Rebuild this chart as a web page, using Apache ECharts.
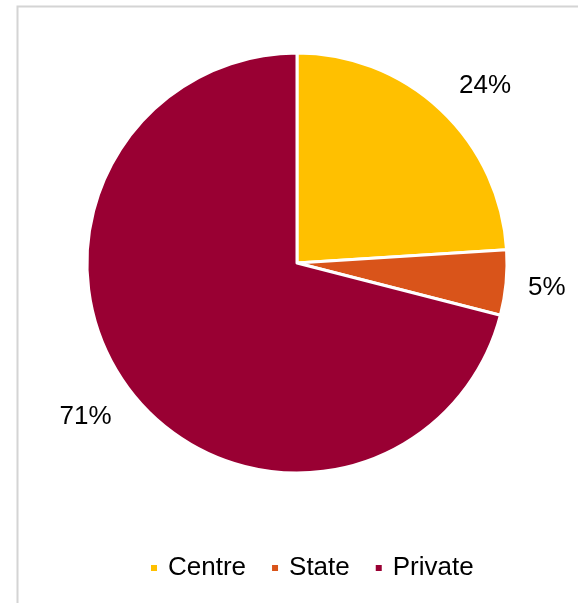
<!DOCTYPE html>
<html>
<head>
<meta charset="utf-8">
<script src="https://cdn.jsdelivr.net/npm/echarts@6/dist/echarts.min.js"></script>
<style>
html,body{margin:0;padding:0;background:#fff;}
#chart{width:578px;height:603px;}
</style>
</head>
<body>
<div id="chart"></div>
<script>
var categories = ['Centre', 'State', 'Private'];
var values = [24, 5, 71];
var colors = ['#FFC000', '#D9541A', '#990033'];
var labelOffsets = [[10, 12], [-9, 0], [-6, -6]];

var pieData = categories.map(function (c, i) {
  return { name: c, value: values[i], itemStyle: { color: colors[i] } };
});
var labelData = categories.map(function (c, i) {
  return { name: c, value: values[i], label: { offset: labelOffsets[i] } };
});

var chart = echarts.init(document.getElementById('chart'), null, { renderer: 'canvas' });
chart.setOption({
  backgroundColor: '#fff',
  animation: false,
  graphic: [{
    type: 'rect',
    left: 15, top: 4,
    shape: { width: 620, height: 640 },
    style: { fill: 'none', stroke: '#d4d4d4', lineWidth: 2 },
    silent: true
  }],
  legend: {
    data: categories,
    top: 555,
    left: 149,
    padding: 0,
    itemWidth: 8,
    itemHeight: 8,
    itemGap: 24,
    icon: 'rect',
    textStyle: { fontFamily: 'Liberation Sans, Arial', fontSize: 26, color: '#000', padding: [0, 0, 0, 5] }
  },
  series: [{
    type: 'pie',
    center: [297, 263],
    radius: [0, 210],
    startAngle: 90,
    clockwise: true,
    data: pieData,
    label: { show: false },
    labelLine: { show: false },
    itemStyle: { borderColor: '#fff', borderWidth: 3 },
    emphasis: { disabled: true }
  }, {
    type: 'pie',
    center: [297, 263],
    radius: [250, 264],
    startAngle: 90,
    clockwise: true,
    silent: true,
    data: labelData,
    itemStyle: { color: 'rgba(0,0,0,0)' },
    label: {
      show: true,
      position: 'inside',
      formatter: '{c}%',
      fontFamily: 'Liberation Sans, Arial',
      fontSize: 26,
      color: '#000'
    },
    labelLine: { show: false },
    emphasis: { disabled: true }
  }]
});
</script>
</body>
</html>
